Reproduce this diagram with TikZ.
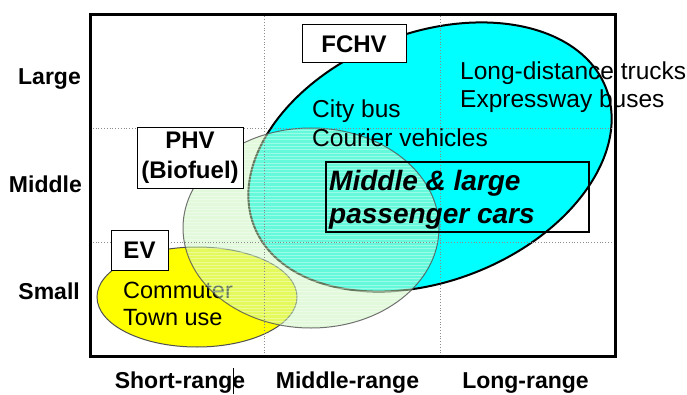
\documentclass[tikz,border=0pt]{standalone}
\usepackage{fontspec}
\setmainfont{Liberation Sans}
\definecolor{phvgreen}{RGB}{200,245,185}
\definecolor{fchvcyan}{RGB}{0,255,255}
\definecolor{evyellow}{RGB}{255,255,0}
\definecolor{outlinegray}{RGB}{80,80,80}
\begin{document}
\begin{tikzpicture}[x=1pt,y=1pt,
  axislbl/.style={font=\fontsize{23}{27}\selectfont\bfseries, inner sep=0pt},
  bodytxt/.style={font=\fontsize{24.5}{29}\selectfont, inner sep=0pt, anchor=base west},
  evtxt/.style={font=\fontsize{23.5}{27}\selectfont, inner sep=0pt, anchor=base west},
  cartxt/.style={font=\fontsize{28}{33}\selectfont\bfseries\itshape, inner sep=0pt, anchor=base west},
  tagbox/.style={draw=black, line width=1pt, fill=white, inner sep=0pt, align=center,
    font=\fontsize{24}{30}\selectfont\bfseries},
  gridline/.style={black!45, dotted, line width=0.8pt},
  thinoutline/.style={outlinegray, line width=1pt}
]
\fill[white] (0,0) rectangle (687,394);
\useasboundingbox (0,0) rectangle (687,394);

% EV: short-range, small vehicles
\coordinate (evc) at (197,97);
\fill[evyellow] (evc) ellipse [x radius=100pt, y radius=50pt];
\draw[thinoutline] (evc) ellipse [x radius=100pt, y radius=50pt];
\node[evtxt] (commuter) at (123,96) {Commuter};
\node[evtxt] (town) at (123,69) {Town use};

% FCHV: large tilted ellipse
\coordinate (fcc) at (430,237);
\fill[fchvcyan, rotate around={21.5:(fcc)}] (fcc) ellipse [x radius=189pt, y radius=124pt];
\node[bodytxt] (trucks) at (460,314) {Long-distance trucks};
\node[bodytxt] (expressway) at (460,286) {Expressway buses};
\draw[black, line width=2pt, rotate around={21.5:(fcc)}] (fcc) ellipse [x radius=189pt, y radius=124pt];

% PHV: translucent striped ellipse on top
\coordinate (phc) at (311,166);
\fill[phvgreen, fill opacity=0.5] (phc) ellipse [x radius=128pt, y radius=100pt];
\begin{scope}
  \clip (phc) ellipse [x radius=128pt, y radius=100pt];
  \foreach \k in {0,...,61}
    \draw[white, opacity=0.35, line width=0.8pt] (180,66+3.3*\k) -- (442,66+3.3*\k);
\end{scope}
\draw[thinoutline, opacity=0.8] (phc) ellipse [x radius=128pt, y radius=100pt];

% dotted grid
\draw[gridline] (264,38) -- (264,379.5);
\draw[gridline] (440,38) -- (440,379.5);
\draw[gridline] (90,266) -- (615,266);
\draw[gridline] (90,152) -- (615,152);

% texts inside the FCHV area
\node[bodytxt] (citybus) at (312,276) {City bus};
\node[bodytxt] (courier) at (312,247) {Courier vehicles};

% passenger car box
\node[draw=black, line width=1.5pt, minimum width=263pt, minimum height=70pt, inner sep=0pt] (cars) at (457.5,197) {};
\node[cartxt] (carsA) at (329,204) {Middle \& large};
\node[cartxt] (carsB) at (329,171) {passenger cars};

% category tags
\node[tagbox, minimum width=104pt, minimum height=38pt] (fchv) at (354,350) {FCHV};
\node[tagbox, minimum width=106pt, minimum height=60pt] (phv) at (190,236) {PHV\\(Biofuel)};
\node[tagbox, minimum width=57pt, minimum height=40pt] (ev) at (139.5,144) {EV};

% outer frame
\draw[black, line width=3pt] (90,38) rectangle (615,379.5);

% axis labels
\node[axislbl, anchor=base east] (large) at (81,309) {Large};
\node[axislbl, anchor=base east] (middle) at (82,202) {Middle};
\node[axislbl, anchor=base east] (small) at (80,95) {Small};
\node[axislbl, anchor=base] (shortr) at (180,6) {Short-range};
\node[axislbl, anchor=base] (middler) at (347.5,6) {Middle-range};
\node[axislbl, anchor=base] (longr) at (525.5,6) {Long-range};
\draw[black, line width=0.8pt] (233,0) -- (233,26);
\end{tikzpicture}
\end{document}
